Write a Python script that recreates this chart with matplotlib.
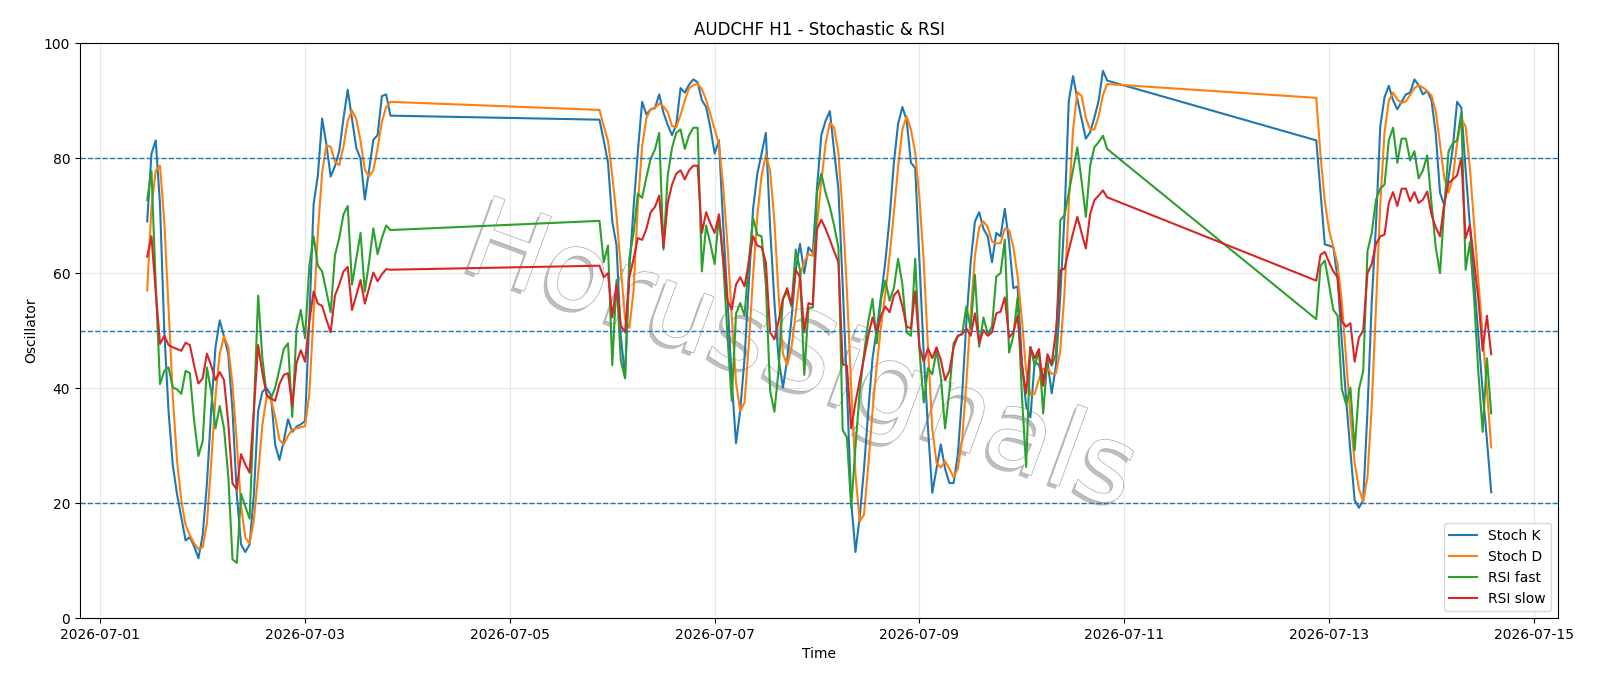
import numpy as np
import pandas as pd
import matplotlib
matplotlib.use("Agg")
import matplotlib.pyplot as plt
import matplotlib.dates as mdates
import matplotlib.patheffects as pe

# hourly timestamps, three trading blocks (weekend gaps between them)
seg1 = pd.date_range("2026-07-01 11:00", "2026-07-03 20:00", freq="h")
seg2 = pd.date_range("2026-07-05 21:00", "2026-07-10 20:00", freq="h")
seg3 = pd.date_range("2026-07-12 21:00", "2026-07-14 14:00", freq="h")
times = seg1.append(seg2).append(seg3)

stoch_k = [
    # 07-01 11..23
    69.0, 80.8, 83.1, 72, 50, 36, 26.6, 21.5, 17.5, 13.5, 14.1, 12.5, 10.4,
    # 07-02
    14.4, 23.4, 36.2, 47.1, 51.8, 49, 45.9, 36, 21.5, 12.8, 11.5, 12.8,
    21.5, 36, 39.4, 40, 38.8, 30.1, 27.5, 30.8, 34.6, 32.4, 33.3, 33.7,
    # 07-03 00..20
    34.3, 52, 72, 77, 86.9, 82.4, 76.8, 78.6, 81.2, 86.9, 91.9, 86.9,
    81.8, 79.9, 72.8, 77.9, 83.2, 84, 90.8, 91.1, 87.4,
    # 07-05 21..23
    86.7, 83.1, 79.2,
    # 07-06
    69, 64.8, 49, 41.9, 60.6, 71.5, 81.2, 89.8, 87.6, 88.5, 88.7, 91.1,
    87.9, 85.8, 84, 85.8, 92.2, 91.4, 92.8, 93.7, 93.2, 90.1, 88.9, 85.3,
    # 07-07
    80.8, 83.1, 68.3, 55.5, 41.4, 30.4, 36.2, 45.2, 58, 71.2, 77.3, 80.8,
    84.4, 68, 55, 45, 40.1, 45, 52, 60.6, 65.1, 60, 64.5, 63.5,
    # 07-08
    75, 84, 86.5, 88.2, 81.2, 74.7, 58, 40, 20.2, 11.5, 17.6, 26,
    36, 45.2, 50.3, 56, 62, 69.6, 79.2, 86, 88.9, 86.6, 79.2, 78.3,
    # 07-09
    62, 45.9, 33, 21.8, 26, 30.2, 26, 23.5, 23.5, 28.5, 38.8, 51.6,
    61.9, 69, 70.6, 67.7, 66.4, 61.9, 67, 66.4, 71.2, 65.4, 57.4, 57.7,
    # 07-10 00..20
    44.6, 36.9, 34.9, 44.6, 44, 41.7, 44.6, 39.1, 44, 56, 70, 90,
    94.3, 90.3, 86.8, 83.4, 84.5, 87.1, 90, 95.2, 93.5,
    # 07-12 21..23
    83.1, 74, 65,
    # 07-13
    64.8, 64.5, 59, 48, 38, 29, 20.5, 19.2, 20.5, 36, 55, 68.5,
    85.5, 90.6, 92.6, 90.1, 88.5, 89.8, 91.1, 91.4, 93.7, 92.7, 91.1, 91.7,
    # 07-14 00..14
    90.1, 84.3, 74, 71.8, 76.6, 81.8, 89.8, 88.8, 78, 68.3, 58.6, 49,
    39.4, 31, 21.9,
]

stoch_d = [
    57, 71.5, 77.8, 78.7, 69, 54, 38.5, 27.3, 20.4, 16.2, 14.4, 13, 12,
    12.3, 16.5, 27, 38.5, 46, 49, 47.2, 40.5, 30.5, 19.5, 14, 13,
    17, 25, 33.6, 38.6, 38, 35, 31, 30.2, 31.7, 32.8, 33, 33.2,
    33.4, 39, 53, 67, 77.5, 82.2, 82, 79.4, 78.8, 82, 86.5, 88.3,
    86.8, 83, 78, 76.8, 77.9, 81.7, 86.3, 88.9, 89.8,
    88.4, 85.6, 83,
    77, 70, 61, 52, 50.5, 57, 72, 82, 87, 88.5, 88.8, 89.5,
    89, 88, 85.6, 85.4, 87.5, 90, 92.2, 92.7, 93, 92, 90.2, 87.6,
    85, 82.5, 75, 65, 52.5, 41, 36, 37.5, 47.5, 59.5, 70, 77,
    80.6, 77.8, 69, 56, 46, 44, 47, 53, 59.5, 62, 63.3, 63,
    68.5, 76, 82.5, 86.2, 85.3, 81, 70.5, 57, 40, 25, 16.8, 18,
    26.5, 36, 44, 50.8, 56.5, 63, 70.5, 78.5, 85, 87.3, 85, 81,
    73, 62, 47, 33, 27, 26.2, 27.3, 26, 24.5, 26, 31, 41,
    53, 63, 68, 69, 68, 65.5, 65.2, 65.2, 67.8, 67.5, 64.6, 59.5,
    52, 43, 38.8, 39, 41.5, 43.4, 43.4, 42.5, 42.6, 46.5, 56.7, 72,
    85, 91.5, 90.8, 87, 85, 85, 87.3, 91, 92.9,
    90.5, 80.5, 72.5,
    67.5, 64.6, 61.5, 55, 45, 35, 27, 22.5, 20.3, 24.5, 37, 54,
    72, 84.5, 90, 91.4, 90.2, 89.6, 89.9, 91, 92.2, 92.7, 92.3, 91.7,
    90.9, 88.2, 82.5, 76.5, 74, 76.5, 82.6, 86.8, 85.5, 78.4, 68.4, 58.6,
    49, 39.8, 29.7,
]

rsi_fast = [
    72.7, 77.8, 58, 40.7, 43, 43.6, 40.1, 39.8, 39, 43, 42.6, 34.3, 28.2,
    30.8, 43.6, 39.4, 33, 36.9, 33, 24.7, 10.2, 9.6, 21.6, 19.4, 17.3,
    36, 56.1, 45.2, 38.8, 38.2, 40.1, 43.3, 46.8, 47.8, 35, 50.3, 53.6,
    48.7, 61.3, 66.4, 61.3, 60.3, 56.8, 53.2, 63.1, 66.1, 70.2, 71.7, 58,
    62.5, 67, 56.8, 61.9, 67.8, 63.3, 66.1, 68.3, 67.5,
    69.1, 61.9, 64.8,
    44, 58.8, 44.8, 41.7, 62.6, 67, 73.8, 73.1, 76.7, 79.9, 81.5, 84.4,
    64.1, 77, 81.8, 84.4, 85, 81.6, 84, 85.3, 85.3, 60.3, 68.3, 65.1,
    61.6, 70.2, 61.9, 49.1, 37.8, 52.9, 54.8, 52.6, 62, 69.6, 66.7, 66.4,
    58, 39.5, 35.9, 43.3, 55.5, 56.8, 54.2, 64.1, 60.6, 42.3, 54, 54,
    74.1, 77.3, 74, 71.5, 68.3, 64.5, 32.7, 31.4, 19.2, 29.8, 39.4, 45.9,
    51.6, 55.5, 47.8, 55.5, 58.7, 55.2, 57.4, 62.5, 58, 49.7, 49.1, 62.5,
    46.5, 37.5, 43.5, 42.4, 46.5, 42, 33, 39.4, 47.8, 49.1, 49.4, 54.2,
    50.4, 59.7, 47.2, 52.3, 49.4, 50.7, 59.4, 60, 65.8, 46.2, 49.1, 55.8,
    38.8, 26.3, 47.2, 43.9, 46.5, 35.6, 45.2, 43.9, 46, 69.2, 70.1, 74,
    78, 81.9, 76, 69.8, 78.7, 81.9, 82.8, 83.9, 81.6,
    52, 61.3, 62.2,
    58, 53.6, 52.6, 39.8, 37.2, 40.1, 29.2, 39.8, 43, 63.8, 67, 72.8,
    74.7, 75.4, 83.1, 85.3, 79.2, 83.4, 83.4, 79.6, 81.2, 76.5, 77.9, 80.5,
    72.2, 64.5, 60, 71.5, 81.2, 82.6, 83.1, 87.9, 60.6, 65.4, 55.5, 42.6,
    32.4, 45.2, 35.6,
]

rsi_slow = [
    62.9, 66.4, 56.8, 47.7, 49.1, 47.5, 47.1, 46.8, 46.5, 47.9, 47.5, 43.9, 40.8,
    41.7, 46, 43.9, 41.4, 42.8, 41.4, 34, 23.4, 22.4, 28.5, 26.7, 25.3,
    36.2, 47.5, 42.6, 38.8, 38.2, 37.8, 40.7, 42.3, 42.6, 36.9, 44.4, 46.6,
    44.6, 51.6, 56.8, 54.7, 54.3, 51.9, 49.7, 56.1, 58, 60.3, 61.1, 53.6,
    56.1, 58.8, 54.7, 57.4, 60.1, 58.6, 59.8, 60.7, 60.6,
    61.3, 59.3, 60,
    52.3, 58, 50.9, 49.7, 59.3, 62.5, 66.1, 65.8, 67.7, 70.6, 71.5, 73.5,
    64.5, 72.2, 75.4, 77.3, 77.9, 76.3, 77.9, 78.7, 78.7, 67, 70.6, 68.6,
    67, 70.2, 62.6, 55.2, 53.7, 58, 59.3, 57.7, 61.9, 66.4, 64.8, 64.5,
    61.9, 49.7, 48.5, 51.7, 55.5, 57.4, 54.5, 60.6, 59.3, 49.7, 54.8, 54.5,
    67.7, 69.3, 67.7, 65.8, 63.8, 61.9, 44.2, 43.9, 33, 37.5, 41.4, 45.2,
    49.1, 52.3, 49.7, 52.6, 54.2, 53.2, 56.1, 57, 54.2, 50.7, 50.4, 56.8,
    47.2, 44.6, 46.9, 45.2, 47.1, 44.9, 41.4, 43, 47.1, 49.1, 49.4, 50.4,
    49.1, 53, 47.8, 50.1, 49.1, 49.7, 53, 53.3, 55.8, 48.8, 49.7, 52.6,
    44, 39.1, 47.1, 45.2, 46.8, 40.4, 45.9, 44.2, 50, 60.5, 60.8, 64,
    67, 69.8, 67, 64.3, 70.3, 72.7, 73.5, 74.4, 73.2,
    58.7, 63.2, 63.7,
    61.9, 60.3, 59.3, 51.6, 50.7, 51.3, 44.6, 48.8, 50, 60, 61.6, 65.1,
    66.4, 66.7, 72.2, 74.1, 71.7, 74.7, 74.7, 72.5, 74.1, 72.2, 72.8, 74.2,
    70.2, 68, 66.4, 72.2, 75.7, 76.3, 77, 80, 66.1, 68.4, 61.9, 55.5,
    46.5, 52.6, 45.9,
]

fig = plt.figure(figsize=(16, 6.86), dpi=100)
ax = fig.add_axes([0.05, 0.099, 0.924, 0.838])

ax.plot(times, stoch_k, label="Stoch K")
ax.plot(times, stoch_d, label="Stoch D")
ax.plot(times, rsi_fast, label="RSI fast")
ax.plot(times, rsi_slow, label="RSI slow")

for lvl in [20, 50, 80]:
    ax.axhline(lvl, linestyle="--", linewidth=1)

# watermark: white letters, grey edge, soft shadow, under the lines
ax.text(0.487, 0.45, "HorusSignals", transform=ax.transAxes,
        ha="center", va="center", rotation=-20, rotation_mode="anchor",
        fontsize=78, color="white", zorder=1,
        path_effects=[pe.SimplePatchShadow(offset=(-2.5, -2.5), shadow_rgbFace="#8a8a8a", alpha=0.55),
                      pe.Stroke(linewidth=1.0, foreground="#a8a8a8"),
                      pe.Normal()])

ax.set_ylim(0, 100)
ax.xaxis.set_major_locator(mdates.DayLocator(bymonthday=[1, 3, 5, 7, 9, 11, 13, 15]))
ax.xaxis.set_major_formatter(mdates.DateFormatter("%Y-%m-%d"))
ax.grid(True, alpha=0.3)
ax.set_title("AUDCHF H1 - Stochastic & RSI")
ax.set_xlabel("Time")
ax.set_ylabel("Oscillator")
ax.legend(loc="lower right")

fig.savefig("out.png", dpi=100)
